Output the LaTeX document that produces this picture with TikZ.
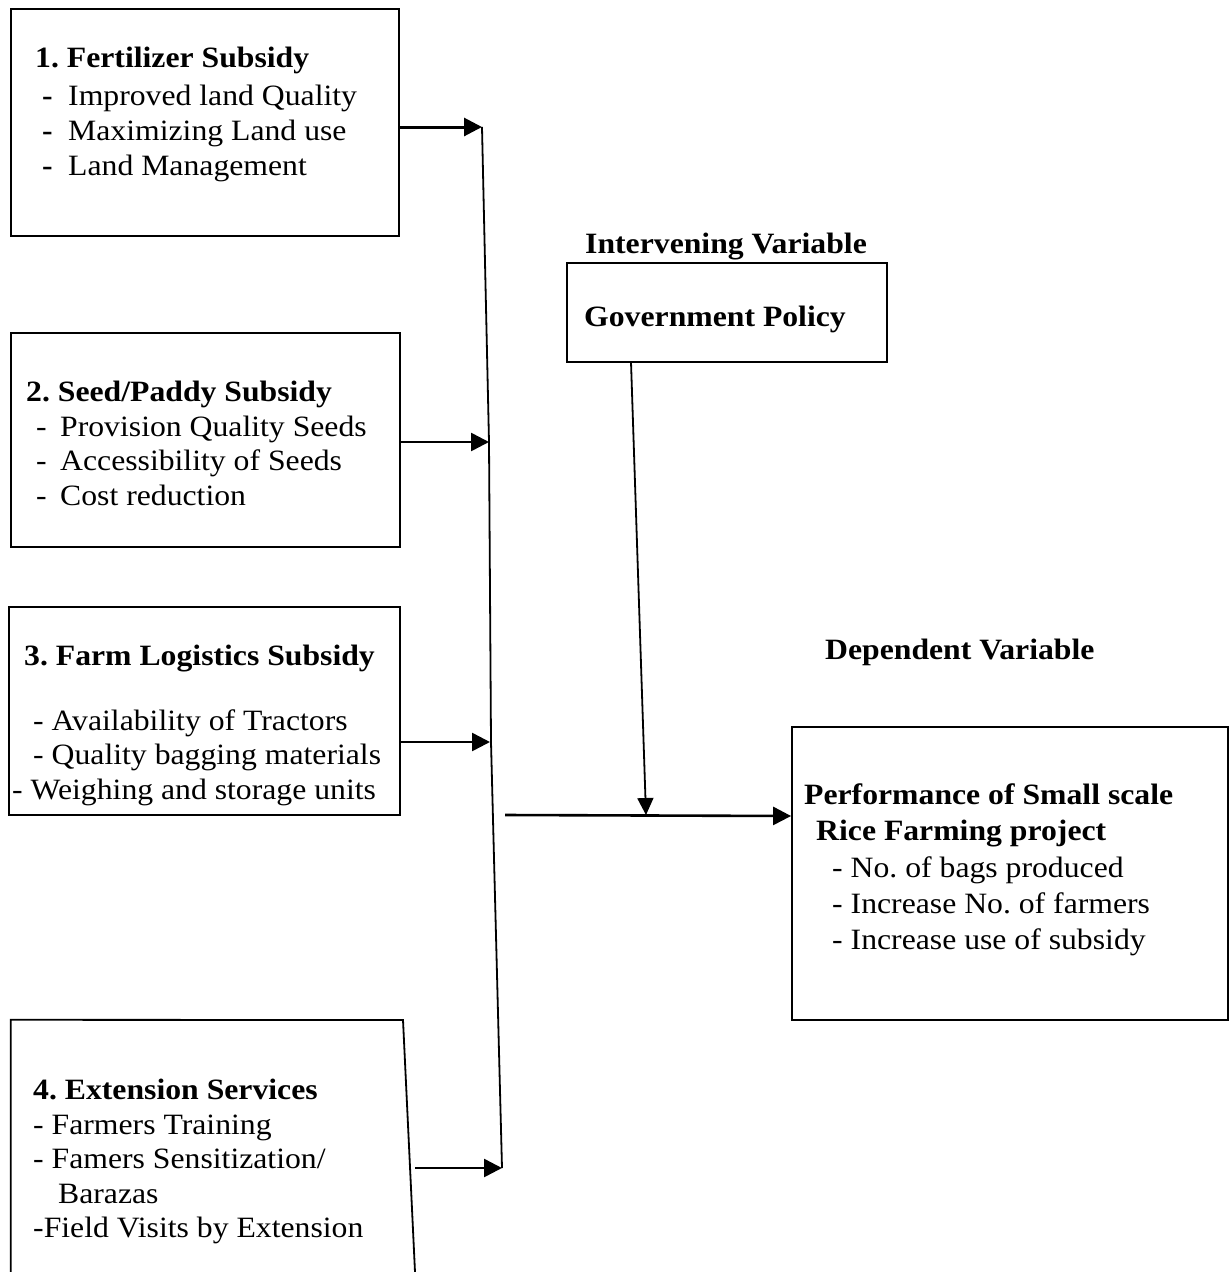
\documentclass[tikz,border=0pt]{standalone}
\usepackage{fontspec}
\setmainfont[FakeStretch=1.075]{Liberation Serif}
\usetikzlibrary{arrows.meta,fit}
\begin{document}
\frenchspacing
\begin{tikzpicture}[x=1pt,y=-1pt,
  box/.style={draw, line width=1.8pt, inner sep=0pt},
  txt/.style={anchor=base west, inner sep=0pt, font=\fontsize{29.5}{35}\selectfont},
  btxt/.style={txt, font=\fontsize{29.5}{35}\selectfont\bfseries},
  arr/.style={line width=2.6pt, -{Triangle[length=18pt,width=18pt]}},
  thin/.style={line width=1.8pt}]
\useasboundingbox (0,0) rectangle (1230,1272);
% boxes
\node[box, fit={(11,9) (399,236)}] (b1) {};
\node[box, fit={(11,333) (400,547)}] (b2) {};
\node[box, fit={(9,607) (400,815)}] (b3) {};
\node[inner sep=0pt, fit={(11,1020) (409,1272)}] (b4) {};
\draw[line width=1.8pt] (b4.south west) -- (b4.north west) -- (403,1020) -- (415,1272);
\node[box, fit={(567,263) (887,362)}] (gov) {};
\node[box, fit={(792,727) (1228,1020)}] (dep) {};
% box 1 text
\node[btxt] at (35,67) {1. Fertilizer Subsidy};
\node[btxt] at (42,105) {-};
\node[txt] at (68,105) {Improved land Quality};
\node[btxt] at (42,140) {-};
\node[txt] at (68,140) {Maximizing Land use};
\node[btxt] at (42,175) {-};
\node[txt] at (68,175) {Land Management};
% box 2 text
\node[btxt] at (26,401) {2. Seed/Paddy Subsidy};
\node[txt] at (36,436) {-};
\node[txt] at (60,436) {Provision Quality Seeds};
\node[txt] at (36,470) {-};
\node[txt] at (60,470) {Accessibility of Seeds};
\node[txt] at (36,505) {-};
\node[txt] at (60,505) {Cost reduction};
% box 3 text
\node[btxt] at (24,665) {3. Farm Logistics Subsidy};
\node[txt] at (33,730) {- Availability of Tractors};
\node[txt] at (33,764) {- Quality bagging materials};
\node[txt] at (12,799) {- Weighing and storage units};
% box 4 text
\node[btxt] at (33,1099) {4. Extension Services};
\node[txt] at (33,1134) {- Farmers Training};
\node[txt] at (33,1168) {- Famers Sensitization/};
\node[txt] at (58,1203) {Barazas};
\node[txt] at (33,1237) {-Field Visits by Extension};
% intervening
\node[btxt] (ivlab) at (585,253) {Intervening Variable};
\node[btxt] at (584,326) {Government Policy};
% dependent
\node[btxt] (dvlab) at (825,659) {Dependent Variable};
\node[btxt] at (804,804) {Performance of Small scale};
\node[btxt] at (816,840) {Rice Farming project};
\node[txt] at (832,877) {- No. of bags produced};
\node[txt] at (832,913) {- Increase No. of farmers};
\node[txt] at (832,949) {- Increase use of subsidy};
% collector line
\coordinate (c1) at (482,127);
\coordinate (c2) at (489,442);
\coordinate (c3) at (491,742);
\coordinate (c4) at (502,1168);
\draw[thin] (c1) -- (c2) -- (c3) -- (c4);
% arrows into collector
\draw[arr, line width=3pt] (b1.east |- c1) -- (c1);
\draw[arr] (b2.east |- c2) -- (c2);
\draw[arr] (b3.east |- c3) -- ([xshift=-1pt]c3);
\draw[arr] (415,1168) -- (c4);
% main arrow
\coordinate (mstart) at (505,815);
\coordinate (mjoin) at (646,815);
\draw[arr] (mstart) -- (dep.west |- 0,816);
\draw[line width=1.8pt, -{Triangle[length=17pt,width=16pt]}] (631,362) -- (mjoin);
\end{tikzpicture}
\end{document}
